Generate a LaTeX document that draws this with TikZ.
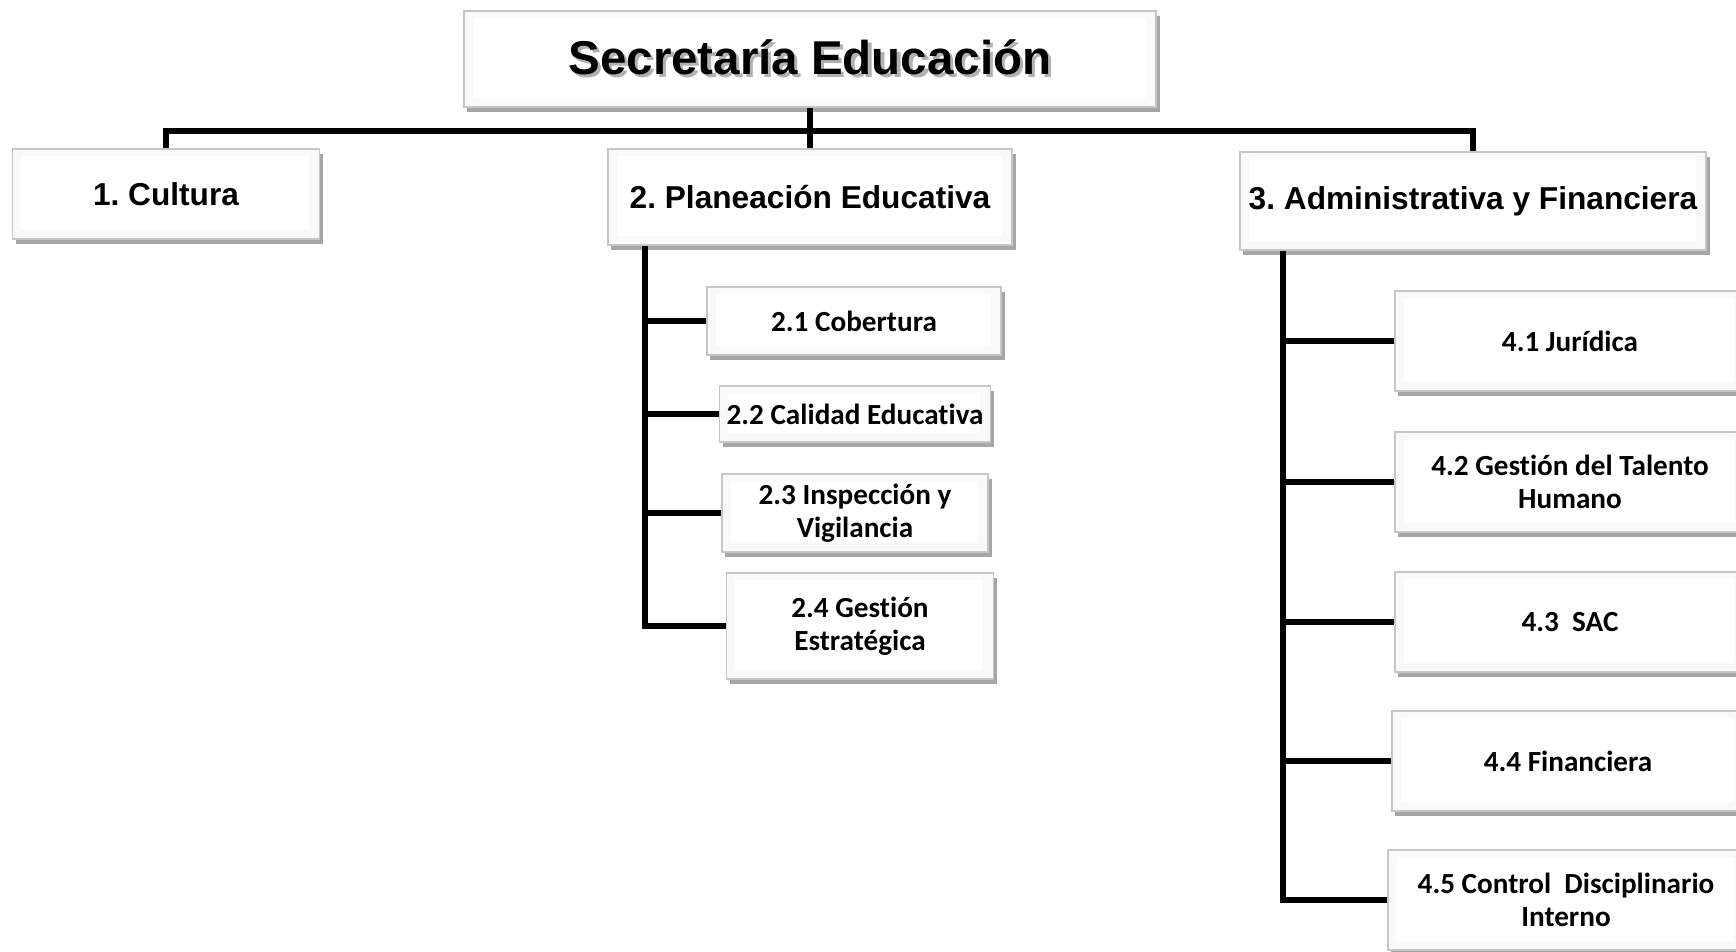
\documentclass[tikz,border=0pt]{standalone}
\usepackage{fontspec}
\setmainfont{Liberation Sans}
\newfontfamily\calibri[Ligatures=NoCommon]{Carlito}
\usepackage{tikz}
\usetikzlibrary{
    shadows,
    calc,
    positioning
}
\frenchspacing
\newcommand{\shadowtxt}[1]{\makebox[0pt][l]{\hspace{0.9pt}\raisebox{-0.9pt}{\textcolor{black!30}{#1}}}#1}
\tikzset{
    bevelbox/.style={draw=gray!45, line width=0.5pt, fill=gray!5, inner sep=2pt,
        drop shadow={shadow xshift=1pt, shadow yshift=-1.3pt, opacity=0.35, fill=black},
        path picture={\fill[white] ([shift={(2.5pt,-2pt)}]path picture bounding box.north west)
            rectangle ([shift={(-3pt,2.5pt)}]path picture bounding box.south east);}},
    topbox/.style={bevelbox, font=\bfseries\fontsize{13.5}{16}\selectfont},
    headbox/.style={bevelbox, font=\bfseries\fontsize{9}{11}\selectfont},
    subbox/.style={bevelbox, align=center, font=\calibri\bfseries\fontsize{8.3}{9.3}\selectfont},
    link/.style={line width=1.7pt}
}

\begin{document}
\begin{tikzpicture}[x=0.01cm, y=-0.01cm]
                        \useasboundingbox (0, 0) rectangle (1736, 952);
                        \clip (0, 0) rectangle (1736, 952);
                        \node[topbox, minimum width=6.92cm, minimum height=0.96cm] (sec) at (810, 59) {\shadowtxt{Secretaría Educación}};
                        \node[headbox, minimum width=3.07cm, minimum height=0.90cm] (cul) at (166, 194) {1. Cultura};
                        \node[headbox, minimum width=4.04cm, minimum height=0.96cm] (pla) at (810, 197) {2. Planeación Educativa};
                        \node[headbox, minimum width=4.66cm, minimum height=0.98cm] (adm) at (1473, 201) {3. Administrativa y Financiera};
                        \node[subbox, minimum width=2.94cm, minimum height=0.68cm] (cob) at (854, 321) {2.1 Cobertura};
                        \node[subbox, minimum width=2.66cm, minimum height=0.56cm] (cal) at (855, 414) {2.2 Calidad Educativa};
                        \node[subbox, minimum width=2.66cm, minimum height=0.78cm] (ins) at (855, 513) {2.3 Inspección y\\Vigilancia};
                        \node[subbox, minimum width=2.67cm, minimum height=1.06cm] (est) at (860, 626) {2.4 Gestión\\Estratégica};
                        \node[subbox, minimum width=3.50cm, minimum height=1.00cm] (jur) at (1570, 341) {4.1 Jurídica};
                        \node[subbox, minimum width=3.50cm, minimum height=1.00cm] (tal) at (1570, 482) {4.2 Gestión del Talento\\Humano};
                        \node[subbox, minimum width=3.50cm, minimum height=1.00cm] (sac) at (1570, 622) {4.3\ \ SAC};
                        \node[subbox, minimum width=3.52cm, minimum height=1.00cm] (fin) at (1568, 761) {4.4 Financiera};
                        \node[subbox, minimum width=3.56cm, minimum height=1.00cm] (cdi) at (1566, 900) {4.5 Control\ \ Disciplinario\\Interno};
                        \coordinate (bar) at (810, 131);
                        \coordinate (plaspine) at ([xshift=0.38cm]pla.south west);
                        \coordinate (admspine) at ([xshift=0.44cm]adm.south west);
                        \draw[link]
                        (sec.south) -- (bar)
                        (cul.north) |- (bar) -| (adm.north)
                        (bar) -- (pla.north);
                        \draw[link]
                        (plaspine) |- (est.west)
                        (plaspine |- cob.west) -- (cob.west)
                        (plaspine |- cal.west) -- (cal.west)
                        (plaspine |- ins.west) -- (ins.west);
                        \draw[link]
                        (admspine) |- (cdi.west)
                        (admspine |- jur.west) -- (jur.west)
                        (admspine |- tal.west) -- (tal.west)
                        (admspine |- sac.west) -- (sac.west)
                        (admspine |- fin.west) -- (fin.west);
                    \end{tikzpicture}
\end{document}
